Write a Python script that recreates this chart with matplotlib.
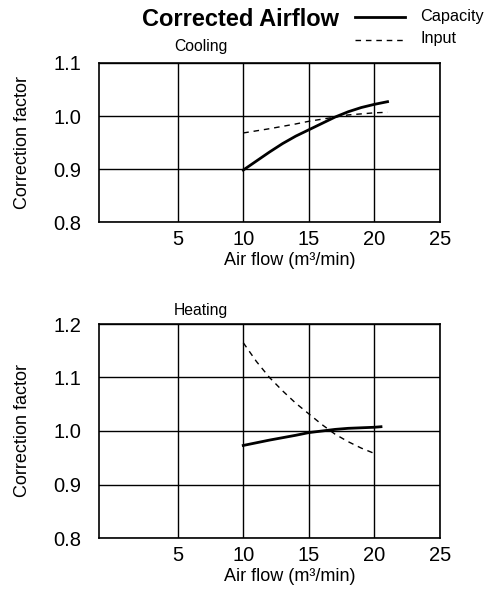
import matplotlib
matplotlib.use("Agg")
import matplotlib.pyplot as plt

plt.rcParams['font.family'] = ['Liberation Sans', 'DejaVu Sans']

# x ticks
x_ticks = [5, 10, 15, 20, 25]

# Cooling curves
cool_cap_x = [10, 11, 12, 13, 14, 15, 16, 17, 18, 19, 20, 21]
cool_cap_y = [0.898, 0.915, 0.932, 0.948, 0.962, 0.974, 0.986, 0.998, 1.008, 1.016, 1.022, 1.027]
cool_in_x = [10, 12, 14, 15, 16, 17, 18, 19, 20, 21]
cool_in_y = [0.968, 0.976, 0.985, 0.990, 0.994, 0.998, 1.002, 1.004, 1.006, 1.007]

# Heating curves
heat_cap_x = [10, 12, 14, 15, 16, 17, 18, 19, 20, 20.5]
heat_cap_y = [0.973, 0.983, 0.992, 0.997, 1.000, 1.003, 1.005, 1.006, 1.007, 1.008]
heat_in_x = [10, 11, 12, 13, 14, 15, 16, 17, 18, 19, 20]
heat_in_y = [1.165, 1.130, 1.100, 1.075, 1.052, 1.032, 1.012, 0.994, 0.980, 0.968, 0.958]

fig = plt.figure(figsize=(4.97, 5.9), dpi=100)
W, H = 497, 590
dash = (0, (4, 3.5))


def make_ax(top, bottom, ylim, yticks):
    ax = fig.add_axes([99 / W, 1 - bottom / H, (440 - 99) / W, (bottom - top) / H])
    ax.set_xlim(-1, 25)
    ax.set_ylim(*ylim)
    ax.set_xticks(x_ticks)
    ax.set_yticks(yticks)
    ax.set_yticklabels(['%.1f' % v for v in yticks])
    ax.grid(True, color='black', linewidth=1.0)
    ax.tick_params(length=0, labelsize=14.5)
    ax.tick_params(axis='y', pad=13)
    ax.tick_params(axis='x', pad=6)
    for s in ax.spines.values():
        s.set_linewidth(1.2)
    ax.set_ylabel('Correction factor', fontsize=13)
    ax.yaxis.set_label_coords(-(99 - 31) / (440 - 99), 0.5)
    ax.set_xlabel('Air flow (m³/min)', fontsize=13, labelpad=2)
    ax.xaxis.label.set_position(((290 - 99) / (440 - 99), 0))
    return ax


ax1 = make_ax(63, 222, (0.8, 1.1), [0.8, 0.9, 1.0, 1.1])
ax1.plot(cool_cap_x, cool_cap_y, color='black', linewidth=2.0)
ax1.plot(cool_in_x, cool_in_y, color='black', linewidth=1.0, linestyle=dash)

ax2 = make_ax(324, 538, (0.8, 1.2), [0.8, 0.9, 1.0, 1.1, 1.2])
ax2.plot(heat_cap_x, heat_cap_y, color='black', linewidth=2.0)
ax2.plot(heat_in_x, heat_in_y, color='black', linewidth=1.0, linestyle=dash)

fig.text(241 / W, 1 - 19 / H, 'Corrected Airflow', fontsize=17, fontweight='bold',
         ha='center', va='center')
fig.lines.append(plt.Line2D([355 / W, 405 / W], [1 - 17 / H, 1 - 17 / H],
                            color='black', linewidth=2.0, transform=fig.transFigure))
fig.lines.append(plt.Line2D([355 / W, 405 / W], [1 - 40 / H, 1 - 40 / H],
                            color='black', linewidth=1.0, linestyle=dash,
                            transform=fig.transFigure))
fig.text(420 / W, 1 - 17 / H, 'Capacity', fontsize=11.7, ha='left', va='center')
fig.text(420 / W, 1 - 39 / H, 'Input', fontsize=11.7, ha='left', va='center')
fig.text(201 / W, 1 - 47 / H, 'Cooling', fontsize=11.3, ha='center', va='center')
fig.text(201 / W, 1 - 310 / H, 'Heating', fontsize=11.3, ha='center', va='center')

fig.savefig('out.png', dpi=100)
